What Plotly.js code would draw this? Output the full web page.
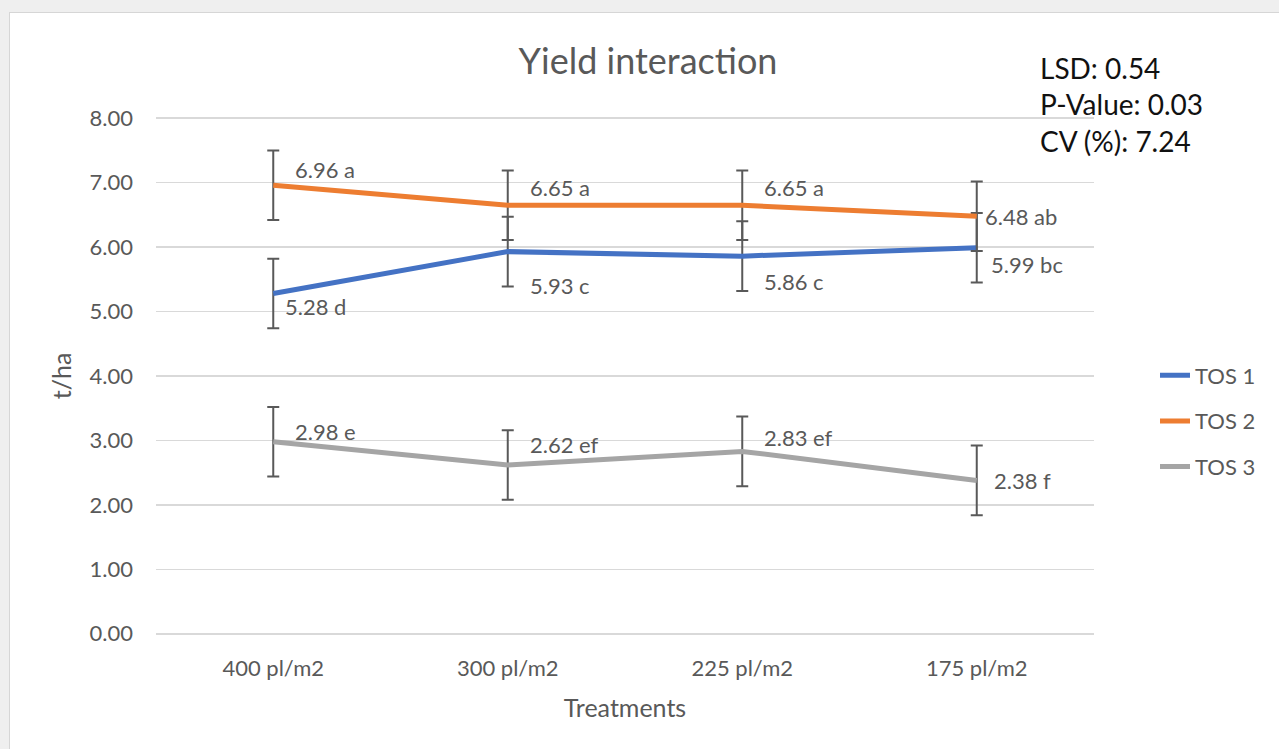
<!DOCTYPE html>
<html>
<head>
<meta charset="utf-8">
<script src="https://cdn.plot.ly/plotly-3.0.1.min.js"></script>
<style>
  html, body { margin: 0; padding: 0; background: #efefef; width: 1279px; height: 749px; overflow: hidden; }
  #chart { position: absolute; left: 9px; top: 12px; width: 1270px; height: 737px; background: #fff; border-left: 1px solid #d6d6d6; border-top: 1px solid #d6d6d6; box-sizing: border-box; }
</style>
</head>
<body>
<div id="chart"></div>
<script>
const categories = ["400 pl/m2", "300 pl/m2", "225 pl/m2", "175 pl/m2"];
const seriesNames = ["TOS 1", "TOS 2", "TOS 3"];
const tos1 = [5.28, 5.93, 5.86, 5.99];
const tos2 = [6.96, 6.65, 6.65, 6.48];
const tos3 = [2.98, 2.62, 2.83, 2.38];
const letters1 = ["d", "c", "c", "bc"];
const letters2 = ["a", "a", "a", "ab"];
const letters3 = ["e", "ef", "ef", "f"];
const lsd = 0.54;
const statsLines = ["LSD: 0.54", "P-Value: 0.03", "CV (%): 7.24"];
const yTicks = [0, 1, 2, 3, 4, 5, 6, 7, 8];

// label placement offsets (px) per series/point
const offs1 = [[10, -13], [20, -34], [20, -25], [12, -17]];
const offs2 = [[20, 16], [20, 18], [20, 18], [6, 0]];
const offs3 = [[20, 10], [20, 20], [20, 14], [15, 0]];

const colors = ["#4472C4", "#ED7D31", "#A5A5A5"];
const vals = [tos1, tos2, tos3];
const lets = [letters1, letters2, letters3];
const offs = [offs1, offs2, offs3];

const FONT = "Lato, 'Open Sans', sans-serif";
const GREY = "#595959";

const traces = vals.map((v, i) => ({
  type: "scatter",
  mode: "lines",
  name: seriesNames[i],
  legendgroup: "g" + i,
  x: categories,
  y: v,
  line: { color: colors[i], width: 5 },
  error_y: { type: "constant", value: lsd, visible: true, color: GREY, thickness: 2, width: 6 }
}));

const MT = 102, MB = 113, ML = 146, MR = 186;
const plotH = 737 - MT - MB, plotW = 1270 - ML - MR;

const annotations = [];
vals.forEach((v, i) => {
  v.forEach((val, j) => {
    annotations.push({
      x: categories[j], y: val, xref: "x", yref: "y",
      text: val.toFixed(2) + " " + lets[i][j],
      showarrow: false, xanchor: "left", yanchor: "middle",
      xshift: offs[i][j][0], yshift: offs[i][j][1],
      font: { family: FONT, size: 22, color: GREY }
    });
  });
});
statsLines.forEach((t, k) => {
  annotations.push({
    xref: "paper", yref: "paper",
    x: (1037 - 9 - ML) / plotW,
    y: 1 + (MT - (67 - 12 + 36.5 * k)) / plotH,
    xanchor: "left", yanchor: "middle",
    text: t, showarrow: false,
    font: { family: FONT, size: 28, color: "#111111" }
  });
});

const layout = {
  width: 1270, height: 737,
  margin: { l: ML, r: MR, t: MT, b: MB },
  paper_bgcolor: "#ffffff", plot_bgcolor: "#ffffff",
  title: { text: "Yield interaction", xref: "container", yref: "container", x: 638 / 1270, y: 1 - 48 / 737, xanchor: "center", yanchor: "middle",
           font: { family: FONT, size: 36, color: GREY } },
  font: { family: FONT, color: GREY },
  xaxis: {
    type: "category", range: [-0.5, 3.5], showgrid: false, zeroline: false, showline: false, ticks: "",
    ticklabelstandoff: 16,
    tickfont: { family: FONT, size: 22, color: GREY },
    title: { text: "Treatments", font: { family: FONT, size: 25, color: GREY }, standoff: 19 }
  },
  yaxis: {
    range: [-0.05, 8.05], tickvals: yTicks, ticktext: yTicks.map(t => t.toFixed(2)),
    showgrid: true, gridcolor: "#d9d9d9", gridwidth: 1.5, zeroline: false, showline: false, ticks: "",
    ticklabelstandoff: 22,
    tickfont: { family: FONT, size: 22, color: GREY },
    title: { text: "t/ha", font: { family: FONT, size: 25, color: GREY }, standoff: 10 }
  },
  showlegend: true,
  legend: { x: (1154 - 9 - ML) / plotW, y: (737 - MB - (420 - 12)) / plotH, xanchor: "left", yanchor: "middle",
            font: { family: FONT, size: 22, color: GREY },
            traceorder: "grouped", tracegroupgap: 14, bgcolor: "rgba(0,0,0,0)" },
  annotations: annotations
};

Plotly.newPlot("chart", traces, layout, { displayModeBar: false, staticPlot: true });
</script>
</body>
</html>
